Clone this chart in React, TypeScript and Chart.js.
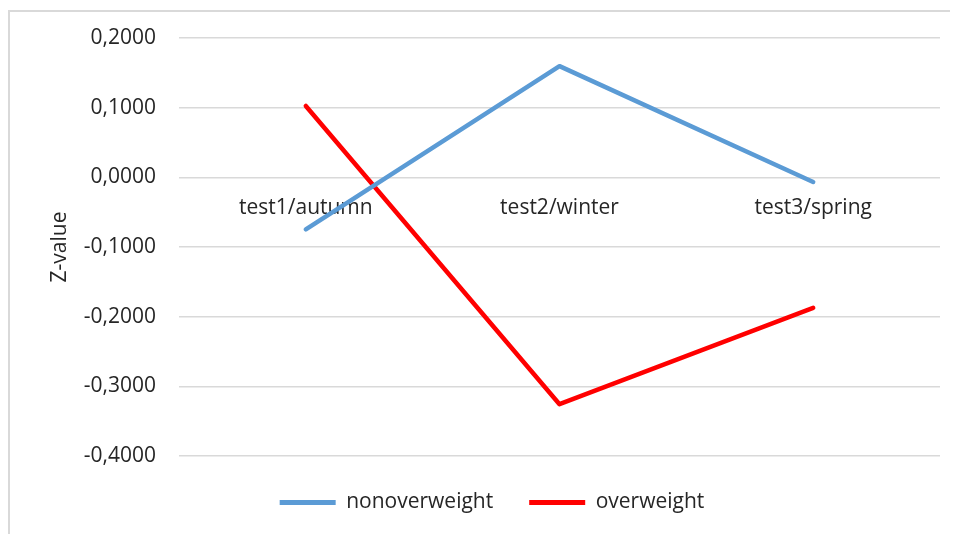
import React, { useEffect, useRef } from "react";
import { Chart, registerables } from "chart.js";

Chart.register(...registerables);

const categories = ["test1/autumn", "test2/winter", "test3/spring"];
const nonoverweight = [-0.0747, 0.1596, -0.0067];
const overweight = [0.1025, -0.3256, -0.1874];
const yMin = -0.4;
const yMax = 0.2;
const yStep = 0.1;

const FONT = "'Open Sans', sans-serif";
const FS = 21;

export default function App() {
  const ref = useRef<HTMLCanvasElement | null>(null);
  useEffect(() => {
    if (!ref.current) return;
    const chart = new Chart(ref.current, {
      type: "line",
      data: {
        labels: categories,
        datasets: [
          {
            label: "nonoverweight",
            data: nonoverweight,
            borderColor: "#5b9bd5",
            backgroundColor: "#5b9bd5",
            borderWidth: 4.5,
            borderCapStyle: "round",
            borderJoinStyle: "round",
            pointRadius: 0,
            tension: 0,
          },
          {
            label: "overweight",
            data: overweight,
            borderColor: "#ff0000",
            backgroundColor: "#ff0000",
            borderWidth: 4.5,
            borderCapStyle: "round",
            borderJoinStyle: "round",
            pointRadius: 0,
            tension: 0,
          },
        ],
      },
      options: {
        animation: false,
        responsive: false,
        devicePixelRatio: 1,
        layout: { padding: { top: 26, right: 18, left: 34, bottom: 11 } },
        plugins: {
          tooltip: { enabled: false },
          legend: {
            position: "bottom",
            labels: {
              font: { family: FONT, size: FS },
              color: "#262626",
              boxWidth: 56,
              boxHeight: 5,
              padding: 36,
              generateLabels: (c: any) => {
                const items = Chart.defaults.plugins.legend.labels.generateLabels(c);
                return items.map((it: any) => ({ ...it, lineWidth: 0 }));
              },
            },
          },
        },
        scales: {
          x: {
            type: "category",
            position: { y: 0 } as any,
            offset: true,
            grid: { display: false, drawTicks: false },
            border: { display: false },
            ticks: {
              font: { family: FONT, size: FS },
              color: "#262626",
              padding: 18,
              maxRotation: 0,
            },
          },
          y: {
            min: yMin,
            max: yMax,
            grid: { color: "#d9d9d9", lineWidth: 1.6, drawTicks: false },
            border: { display: false },
            afterFit: (s: any) => {
              s.width = 135;
              s.paddingTop = 0;
              s.paddingBottom = 0;
            },
            ticks: {
              stepSize: yStep,
              font: { family: FONT, size: FS },
              color: "#262626",
              padding: 23,
              callback: (v: any) => {
                const n = Math.round(Number(v) * 10000) / 10000;
                return (n === 0 ? 0 : n).toFixed(4).replace(".", ",");
              },
            },
            title: {
              display: true,
              text: "Z-value",
              font: { family: FONT, size: FS },
              color: "#262626",
              padding: { top: 3, bottom: 0 },
            },
          },
        },
      },
    });
    return () => chart.destroy();
  }, []);
  return (
    <div
      style={{
        marginTop: 2,
        marginRight: -8,
        borderTop: "2px solid #d9d9d9",
        borderLeft: "2px solid #d9d9d9",
        width: 948,
        height: 530,
        overflow: "hidden",
      }}
    >
      <canvas ref={ref} width={948} height={522} style={{ display: "block" }} />
    </div>
  );
}
